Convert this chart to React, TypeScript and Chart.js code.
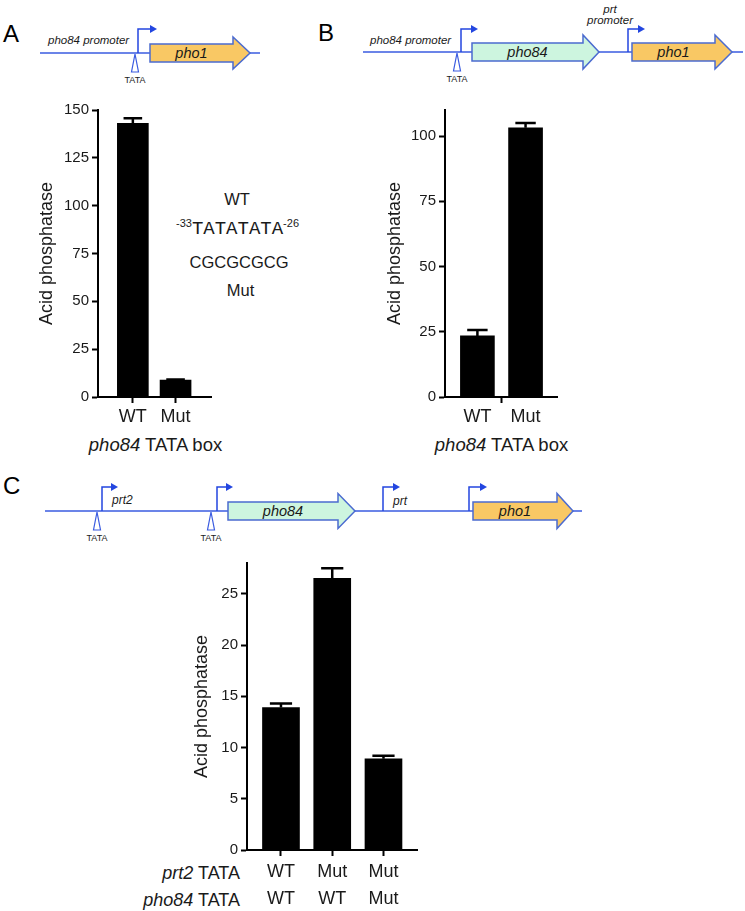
import React, { useEffect, useRef } from 'react';
import { Chart, registerables } from 'chart.js';

Chart.register(...registerables);

const FONT = "'Liberation Sans', Arial, Helvetica, sans-serif";
const MONO = "'Liberation Mono', 'Courier New', monospace";
const TEXT = '#1a1a1a';
const LINE_BLUE = '#3a5be0';
const ARROW_BLUE = '#2346e0';
const GENE_STROKE = '#4b6bd0';
const YELLOW = '#f9c864';
const GREEN = '#cdf5df';

// ---- Panel A data ----
const A_CATEGORIES = ['WT', 'Mut'];
const A_VALUES = [143, 8.9];
const A_ERRORS = [2.7, 0.3];
const A_Y_TICKS = [0, 25, 50, 75, 100, 125, 150];
const A_Y_MAX = 150;

// ---- Panel B data ----
const B_CATEGORIES = ['WT', 'Mut'];
const B_VALUES = [23.4, 103.2];
const B_ERRORS = [2.3, 1.8];
const B_Y_TICKS = [0, 25, 50, 75, 100];
const B_Y_MAX = 110;

// ---- Panel C data ----
const C_PRT2_TATA = ['WT', 'Mut', 'Mut'];
const C_PHO84_TATA = ['WT', 'WT', 'Mut'];
const C_VALUES = [13.9, 26.5, 8.9];
const C_ERRORS = [0.4, 1.0, 0.3];
const C_Y_TICKS = [0, 5, 10, 15, 20, 25];
const C_Y_MAX = 28;

type Spec = {
  values: number[];
  errors: number[];
  yMax: number;
  yTicks: number[];
  xMin: number;
  xMax: number;
  xTicks: number[];
  labelFor: (v: number) => string | string[];
  tickVisible: (v: number) => boolean;
  barThickness: number;
  yAxisWidth: number;
  xAxisHeight: number;
  labelLineHeight: number;
};

function buildChart(canvas: HTMLCanvasElement, s: Spec) {
  const errPlugin = {
    id: 'errorBars',
    afterDatasetsDraw(chart: any) {
      const meta = chart.getDatasetMeta(0);
      const y = chart.scales.y;
      const ctx = chart.ctx;
      ctx.save();
      ctx.strokeStyle = '#000';
      ctx.lineWidth = 2.5;
      meta.data.forEach((bar: any, i: number) => {
        const top = y.getPixelForValue(s.values[i] + s.errors[i]);
        const half = bar.width * 0.3;
        ctx.beginPath();
        ctx.moveTo(bar.x, bar.y);
        ctx.lineTo(bar.x, top);
        ctx.moveTo(bar.x - half, top);
        ctx.lineTo(bar.x + half, top);
        ctx.stroke();
      });
      ctx.restore();
    },
  };
  return new Chart(canvas, {
    type: 'bar',
    data: {
      datasets: [
        {
          data: s.values.map((v, i) => ({ x: i + 1, y: v })),
          backgroundColor: '#000',
          borderWidth: 0,
          barThickness: s.barThickness,
        } as any,
      ],
    },
    options: {
      responsive: false,
      animation: false,
      devicePixelRatio: 1,
      layout: { padding: { top: 20, right: 10, left: 0, bottom: 0 } },
      plugins: { legend: { display: false }, tooltip: { enabled: false } },
      scales: {
        x: {
          type: 'linear',
          min: s.xMin,
          max: s.xMax,
          offset: false,
          afterBuildTicks: (sc: any) => {
            sc.ticks = s.xTicks.map((v) => ({ value: v }));
          },
          afterFit: (sc: any) => {
            sc.height = s.xAxisHeight;
          },
          ticks: {
            autoSkip: false,
            maxRotation: 0,
            minRotation: 0,
            padding: 3,
            color: TEXT,
            font: { family: FONT, size: 18, lineHeight: s.labelLineHeight },
            callback: (v: any) => s.labelFor(Number(v)),
          },
          grid: {
            offset: false,
            drawOnChartArea: false,
            drawTicks: true,
            tickLength: 6,
            tickWidth: 2,
            tickColor: (ctx: any) =>
              ctx.tick && s.tickVisible(ctx.tick.value) ? '#000' : 'rgba(0,0,0,0)',
          },
          border: { display: true, color: '#000', width: 2 },
        } as any,
        y: {
          type: 'linear',
          min: 0,
          max: s.yMax,
          afterBuildTicks: (sc: any) => {
            sc.ticks = s.yTicks.map((v) => ({ value: v }));
          },
          afterFit: (sc: any) => {
            sc.width = s.yAxisWidth;
          },
          ticks: { padding: 3, color: TEXT, font: { family: FONT, size: 15 } },
          grid: {
            drawOnChartArea: false,
            drawTicks: true,
            tickLength: 6,
            tickWidth: 2,
            tickColor: '#000',
          },
          border: { display: true, color: '#000', width: 2 },
          title: {
            display: true,
            text: 'Acid phosphatase',
            color: TEXT,
            font: { family: FONT, size: 18, lineHeight: 1.2 },
            padding: 0,
          },
        } as any,
      },
    },
    plugins: [errPlugin as any],
  });
}

const catLabel = (cats: string[]) => (v: number) =>
  Number.isInteger(v) && cats[v - 1] !== undefined ? cats[v - 1] : '';

const specA: Spec = {
  values: A_VALUES,
  errors: A_ERRORS,
  yMax: A_Y_MAX,
  yTicks: A_Y_TICKS,
  xMin: 0.184,
  xMax: 2.83,
  xTicks: A_CATEGORIES.map((_, i) => i + 1),
  labelFor: catLabel(A_CATEGORIES),
  tickVisible: () => true,
  barThickness: 31,
  yAxisWidth: 62,
  xAxisHeight: 40,
  labelLineHeight: 1.2,
};

const specB: Spec = {
  values: B_VALUES,
  errors: B_ERRORS,
  yMax: B_Y_MAX,
  yTicks: B_Y_TICKS,
  xMin: 0.327,
  xMax: 2.653,
  xTicks: [1, 1.5, 2],
  labelFor: catLabel(B_CATEGORIES),
  tickVisible: (v) => v === 1.5,
  barThickness: 34,
  yAxisWidth: 61,
  xAxisHeight: 40,
  labelLineHeight: 1.2,
};

const specC: Spec = {
  values: C_VALUES,
  errors: C_ERRORS,
  yMax: C_Y_MAX,
  yTicks: C_Y_TICKS,
  xMin: 0.337,
  xMax: 3.654,
  xTicks: C_VALUES.map((_, i) => i + 1),
  labelFor: (v) =>
    Number.isInteger(v) && C_PRT2_TATA[v - 1] !== undefined
      ? [C_PRT2_TATA[v - 1], C_PHO84_TATA[v - 1]]
      : '',
  tickVisible: () => true,
  barThickness: 37,
  yAxisWidth: 56,
  xAxisHeight: 60,
  labelLineHeight: 1.5,
};

function Gene(p: { x0: number; xb: number; tip: number; yc: number; hb: number; hh: number; fill: string; label: string }) {
  const { x0, xb, tip, yc, hb, hh, fill, label } = p;
  const d = `M${x0},${yc - hb} L${xb},${yc - hb} L${xb},${yc - hh} L${tip},${yc} L${xb},${yc + hh} L${xb},${yc + hb} L${x0},${yc + hb} Z`;
  return (
    <g>
      <path d={d} fill={fill} stroke={GENE_STROKE} strokeWidth={1.5} />
      <text x={(x0 + xb) / 2} y={yc} textAnchor="middle" dominantBaseline="central" fontStyle="italic" fontSize={14.5} fill={TEXT}>
        {label}
      </text>
    </g>
  );
}

function Promoter(p: { x: number; yBase: number; yTop: number; xEnd: number }) {
  const { x, yBase, yTop, xEnd } = p;
  return (
    <g>
      <path d={`M${x},${yBase} L${x},${yTop} L${xEnd - 5},${yTop}`} fill="none" stroke={ARROW_BLUE} strokeWidth={1.5} />
      <polygon points={`${xEnd - 7},${yTop - 4} ${xEnd},${yTop} ${xEnd - 7},${yTop + 4}`} fill={ARROW_BLUE} />
    </g>
  );
}

function Tata(p: { x: number; y: number }) {
  const { x, y } = p;
  return (
    <g>
      <polygon points={`${x},${y + 1} ${x - 3.5},${y + 19} ${x + 3.5},${y + 19}`} fill="#fff" stroke={LINE_BLUE} strokeWidth={1.2} />
      <text x={x} y={y + 27} fontSize={9} textAnchor="middle" dominantBaseline="central" fill={TEXT}>
        TATA
      </text>
    </g>
  );
}

function Figure() {
  return (
    <svg width={745} height={911} style={{ position: 'absolute', left: 0, top: 0 }} fontFamily={FONT}>
      {/* Panel letters */}
      <text x={3} y={42} fontSize={24} fill="#000">A</text>
      <text x={318} y={41} fontSize={24} fill="#000">B</text>
      <text x={3} y={494} fontSize={24} fill="#000">C</text>

      {/* Diagram A */}
      <line x1={40} y1={53} x2={260} y2={53} stroke={LINE_BLUE} strokeWidth={1.5} />
      <Tata x={135} y={53} />
      <Promoter x={138} yBase={53} yTop={29} xEnd={157} />
      <Gene x0={150} xb={233} tip={250} yc={53} hb={9} hh={16} fill={YELLOW} label="pho1" />
      <text x={48} y={44} fontSize={11.5} fontStyle="italic" fill={TEXT}>pho84 promoter</text>

      {/* Diagram B */}
      <line x1={363} y1={52} x2={743} y2={52} stroke={LINE_BLUE} strokeWidth={1.5} />
      <Tata x={457} y={52} />
      <Promoter x={461} yBase={52} yTop={29} xEnd={478} />
      <Gene x0={472} xb={583} tip={599} yc={52} hb={9} hh={17} fill={GREEN} label="pho84" />
      <Promoter x={628} yBase={52} yTop={29} xEnd={645} />
      <Gene x0={632} xb={715} tip={732} yc={52} hb={9} hh={17} fill={YELLOW} label="pho1" />
      <text x={370} y={44} fontSize={11.5} fontStyle="italic" fill={TEXT}>pho84 promoter</text>
      <text x={610} y={13} fontSize={11.5} fontStyle="italic" textAnchor="middle" fill={TEXT}>prt</text>
      <text x={610} y={24} fontSize={11.5} fontStyle="italic" textAnchor="middle" fill={TEXT}>promoter</text>

      {/* Diagram C */}
      <line x1={45} y1={511} x2={582} y2={511} stroke={LINE_BLUE} strokeWidth={1.5} />
      <Tata x={97} y={511} />
      <Promoter x={102} yBase={511} yTop={487} xEnd={118} />
      <text x={112} y={504} fontSize={12} fontStyle="italic" fill={TEXT}>prt2</text>
      <Tata x={211} y={511} />
      <Promoter x={217} yBase={511} yTop={487} xEnd={233} />
      <Gene x0={228} xb={338} tip={355} yc={511} hb={9} hh={17.5} fill={GREEN} label="pho84" />
      <Promoter x={383} yBase={511} yTop={487} xEnd={400} />
      <text x={393} y={505} fontSize={12} fontStyle="italic" fill={TEXT}>prt</text>
      <Promoter x={469} yBase={511} yTop={487} xEnd={487} />
      <Gene x0={473} xb={557} tip={573} yc={511} hb={9} hh={17.5} fill={YELLOW} label="pho1" />

      {/* Panel A annotation */}
      <text x={237} y={198.5} fontSize={16.5} textAnchor="middle" dominantBaseline="central" fill={TEXT}>WT</text>
      <text x={237.5} y={233.5} textAnchor="middle" fill={TEXT}>
        <tspan fontSize={11} dy={-6.5}>-33</tspan>
        <tspan fontFamily={MONO} fontSize={19} dy={6.5}>TATATATA</tspan>
        <tspan fontSize={11} dy={-6.5}>-26</tspan>
      </text>
      <text x={239} y={262} fontSize={16.5} textAnchor="middle" dominantBaseline="central" fill={TEXT}>CGCGCGCG</text>
      <text x={240.5} y={289.5} fontSize={16.5} textAnchor="middle" dominantBaseline="central" fill={TEXT}>Mut</text>

      {/* x titles A, B */}
      <text x={155.5} y={444} fontSize={18.5} textAnchor="middle" dominantBaseline="central" fill={TEXT}>
        <tspan fontStyle="italic">pho84</tspan> TATA box
      </text>
      <text x={501.5} y={444} fontSize={18.5} textAnchor="middle" dominantBaseline="central" fill={TEXT}>
        <tspan fontStyle="italic">pho84</tspan> TATA box
      </text>

      {/* Row labels C */}
      <text x={240} y={872.5} fontSize={18} textAnchor="end" dominantBaseline="central" fill={TEXT}>
        <tspan fontStyle="italic">prt2</tspan> TATA
      </text>
      <text x={240} y={899.5} fontSize={18} textAnchor="end" dominantBaseline="central" fill={TEXT}>
        <tspan fontStyle="italic">pho84</tspan> TATA
      </text>
    </svg>
  );
}

export default function App() {
  const refA = useRef<HTMLCanvasElement>(null);
  const refB = useRef<HTMLCanvasElement>(null);
  const refC = useRef<HTMLCanvasElement>(null);

  useEffect(() => {
    const charts = [
      buildChart(refA.current!, specA),
      buildChart(refB.current!, specB),
      buildChart(refC.current!, specC),
    ];
    return () => charts.forEach((c) => c.destroy());
  }, []);

  return (
    <div style={{ position: 'absolute', left: 0, top: 0, width: 745, height: 911, background: '#fff', overflow: 'hidden', fontFamily: FONT }}>
      <Figure />
      <canvas ref={refA} width={185} height={347} style={{ position: 'absolute', left: 36, top: 90 }} />
      <canvas ref={refB} width={183} height={347} style={{ position: 'absolute', left: 384, top: 90 }} />
      <canvas ref={refC} width={236} height={367} style={{ position: 'absolute', left: 191, top: 543 }} />
    </div>
  );
}
